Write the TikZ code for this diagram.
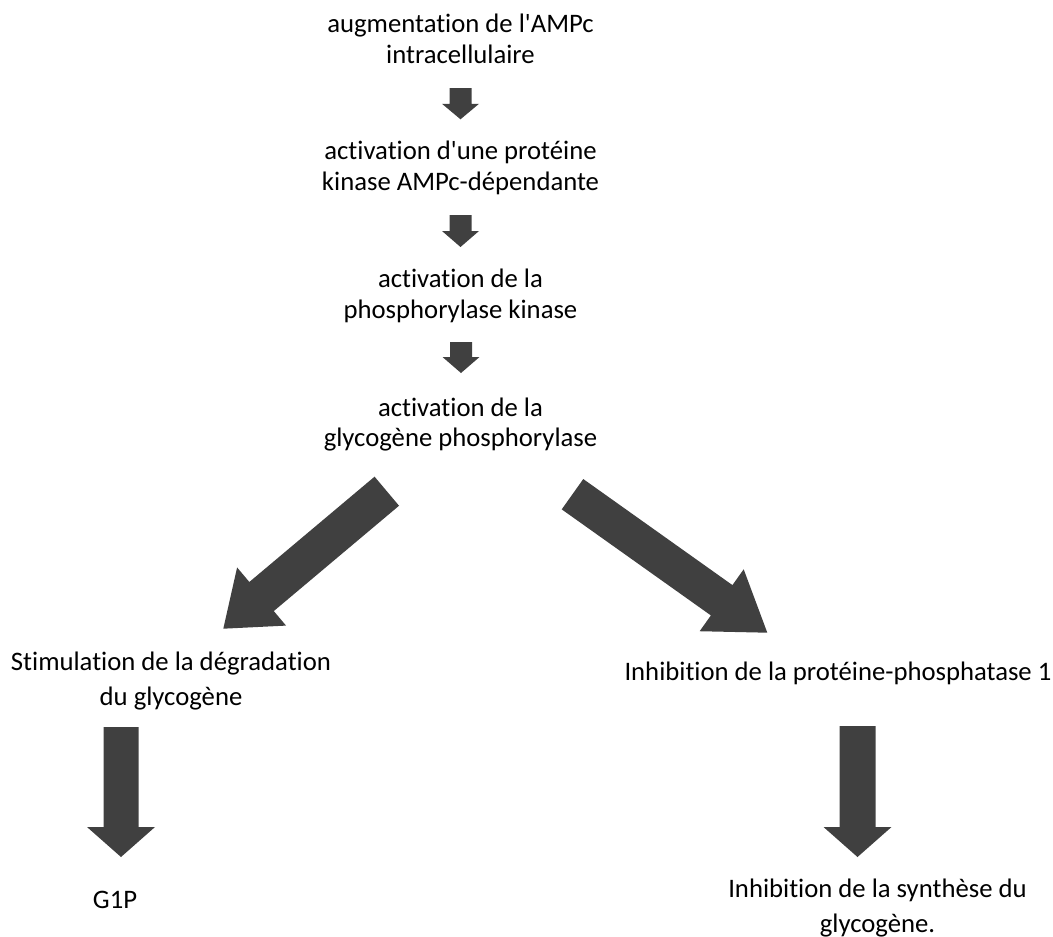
\documentclass[tikz,border=0pt]{standalone}
\usepackage{fontspec}
\setmainfont{Carlito}[Ligatures={NoCommon}]
\usetikzlibrary{calc}
\definecolor{arrowgray}{HTML}{404040}
\tikzset{
  txt/.style={font=\fontsize{26.7pt}{30.5pt}\selectfont, align=center, inner sep=0pt, anchor=base},
  txtb/.style={font=\fontsize{26.7pt}{35pt}\selectfont, align=center, inner sep=0pt, anchor=base},
  blockfill/.style={fill=arrowgray}
}
% #1 start, #2 tip, #3 shaft half width, #4 head half width, #5 head length
\newcommand{\blockarrow}[5]{%
  \coordinate (hb) at ($(#2)!#5!(#1)$);
  \fill[blockfill] ($(#1)!#3!90:(#2)$) -- ($(hb)!#3!90:(#2)$) -- ($(hb)!#4!90:(#2)$) -- (#2)
    -- ($(hb)!#4!-90:(#2)$) -- ($(hb)!#3!-90:(#2)$) -- ($(#1)!#3!-90:(#2)$) -- cycle;
}
\begin{document}
\begin{tikzpicture}[x=1pt,y=-1pt]
\useasboundingbox (0,0) rectangle (1053,937);
% anchor=base of a multi-line node is the baseline of its last line
\node[txt] (n1) at (460.5,63) {augmentation de l\textquotesingle AMPc\\intracellulaire};
\node[txt] (n2) at (460.5,190) {activation d\textquotesingle une protéine\\kinase AMPc-dépendante};
\node[txt] (n3) at (460.5,318) {activation de la\\phosphorylase kinase};
\node[txt] (n4) at (460.5,446.5) {activation de la\\glycogène phosphorylase};
\node[txtb] (n5) at (171,705) {Stimulation de la dégradation\\du glycogène};
\node[txtb] (n6) at (838,680) {Inhibition de la protéine-phosphatase 1};
\node[txtb] (n7) at (115,908) {G1P};
\node[txtb] (n8) at (877.5,932) {Inhibition de la synthèse du\\glycogène.};
% arrow end points
\coordinate (a1s) at (460.5,88);  \coordinate (a1t) at (460.5,119.3);
\coordinate (a2s) at (460.5,215); \coordinate (a2t) at (460.5,247);
\coordinate (a3s) at (461,342);   \coordinate (a3t) at (461,373);
\coordinate (a4s) at (386.8,491.2); \coordinate (a4t) at (223.3,628.7);
\coordinate (a5s) at (572.5,494.2); \coordinate (a5t) at (767.3,632.7);
\coordinate (a6s) at (121,727);   \coordinate (a6t) at (121,857);
\coordinate (a7s) at (857.5,726); \coordinate (a7t) at (857.5,857);
\blockarrow{a1s}{a1t}{11pt}{18.5pt}{15.5pt}
\blockarrow{a2s}{a2t}{11pt}{18.5pt}{16pt}
\blockarrow{a3s}{a3t}{11pt}{18.5pt}{16pt}
\blockarrow{a4s}{a4t}{19pt}{38pt}{50pt}
\blockarrow{a5s}{a5t}{18.6pt}{38pt}{56pt}
\blockarrow{a6s}{a6t}{17.5pt}{34pt}{30pt}
\blockarrow{a7s}{a7t}{18pt}{34pt}{30pt}
\end{tikzpicture}
\end{document}
